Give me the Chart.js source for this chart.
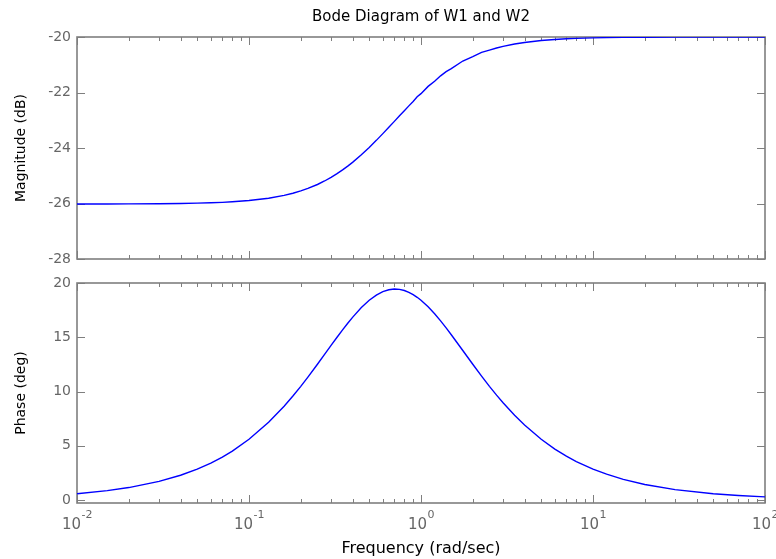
<!DOCTYPE html>
<html>
<head>
<meta charset="utf-8">
<script src="https://cdn.jsdelivr.net/npm/chart.js@4/dist/chart.umd.min.js"></script>
<style>
html, body { margin: 0; padding: 0; background: #ffffff; }
#wrap { position: relative; width: 776px; height: 559px; background: #ffffff; }
#wrap canvas { position: absolute; left: 0; top: 0; }
</style>
</head>
<body>
<div id="wrap">
  <canvas id="magChart" width="776" height="559"></canvas>
  <canvas id="phaseChart" width="776" height="559"></canvas>
</div>
<script>
// ---- data (frequency in rad/sec) ----
const frequencies = [0.01, 0.015, 0.02, 0.03, 0.04, 0.05, 0.06, 0.07, 0.08, 0.1, 0.13, 0.16, 0.18, 0.2, 0.22, 0.25, 0.275, 0.3, 0.325, 0.35, 0.375, 0.4, 0.45, 0.5, 0.55, 0.6, 0.65, 0.7, 0.75, 0.8, 0.85, 0.9, 0.95, 1.0, 1.1, 1.2, 1.3, 1.4, 1.5, 1.75, 2, 2.25, 2.5, 2.75, 3, 3.5, 4, 5, 6, 7, 8, 10, 12, 15, 20, 30, 50, 70, 100];
const magnitudeDb = [-26.019, -26.018, -26.015, -26.009, -26.000, -25.988, -25.974, -25.958, -25.938, -25.893, -25.809, -25.707, -25.630, -25.546, -25.457, -25.315, -25.189, -25.060, -24.926, -24.790, -24.653, -24.517, -24.245, -23.979, -23.725, -23.482, -23.254, -23.040, -22.840, -22.655, -22.482, -22.324, -22.156, -22.041, -21.780, -21.595, -21.399, -21.248, -21.139, -20.866, -20.706, -20.553, -20.474, -20.398, -20.339, -20.253, -20.196, -20.127, -20.089, -20.065, -20.050, -20.032, -20.023, -20.014, -20.008, -20.004, -20.001, -20.001, -20.000];
const phaseDeg = [0.573, 0.859, 1.145, 1.715, 2.283, 2.848, 3.409, 3.965, 4.516, 5.599, 7.167, 8.655, 9.595, 10.491, 11.342, 12.529, 13.435, 14.265, 15.020, 15.702, 16.314, 16.859, 17.759, 18.435, 18.915, 19.230, 19.407, 19.470, 19.440, 19.335, 19.169, 18.958, 18.710, 18.435, 17.830, 17.186, 16.531, 15.884, 15.255, 13.800, 12.529, 11.433, 10.491, 9.678, 8.973, 7.815, 6.911, 5.599, 4.698, 4.044, 3.549, 2.849, 2.378, 1.905, 1.430, 0.954, 0.573, 0.409, 0.286];

// ---- tick labels ----
const magTicks = [-28, -26, -24, -22, -20];
const phaseTicks = [0, 5, 10, 15, 20];
const decadeExponents = [-2, -1, 0, 1, 2];
const minorMultipliers = [2, 3, 4, 5, 6, 7, 8, 9];

// ---- texts ----
const titleText = 'Bode Diagram of W1 and W2';
const magLabel = 'Magnitude (dB)';
const phaseLabel = 'Phase (deg)';
const freqLabel = 'Frequency (rad/sec)';

const FONT = 'DejaVu Sans';
const TICK_COLOR = '#666666';
const FRAME_COLOR = '#7f7f7f';

function toPoints(xs, ys) { return xs.map((f, i) => ({ x: f, y: ys[i] })); }

// frame + inside tick marks (MATLAB style box)
const boxPlugin = {
  id: 'box',
  beforeDatasetsDraw(chart) {
    const { ctx, chartArea: a, scales } = chart;
    const xs = scales.x, ys = scales.y;
    ctx.save();
    ctx.strokeStyle = FRAME_COLOR;
    ctx.lineWidth = 1;
    ctx.beginPath();
    decadeExponents.forEach((e) => {
      const dec = Math.pow(10, e);
      const px = Math.round(xs.getPixelForValue(dec)) + 0.5;
      ctx.moveTo(px, a.bottom); ctx.lineTo(px, a.bottom - 8);
      ctx.moveTo(px, a.top); ctx.lineTo(px, a.top + 8);
      if (e < decadeExponents[decadeExponents.length - 1]) {
        minorMultipliers.forEach((m) => {
          const mx = Math.round(xs.getPixelForValue(m * dec)) + 0.5;
          ctx.moveTo(mx, a.bottom); ctx.lineTo(mx, a.bottom - 4);
          ctx.moveTo(mx, a.top); ctx.lineTo(mx, a.top + 4);
        });
      }
    });
    ys.ticks.forEach((t) => {
      const py = Math.round(ys.getPixelForValue(t.value)) + 0.5;
      ctx.moveTo(a.left, py); ctx.lineTo(a.left + 8, py);
      ctx.moveTo(a.right, py); ctx.lineTo(a.right - 8, py);
    });
    ctx.stroke();
    ctx.lineWidth = 1.6;
    ctx.strokeRect(a.left, a.top, a.right - a.left, a.bottom - a.top);
    ctx.restore();
  }
};

// decade labels 10^n below the lower plot
const decadeLabelPlugin = {
  id: 'decadeLabels',
  afterDraw(chart) {
    const { ctx, chartArea: a, scales } = chart;
    const xs = scales.x;
    ctx.save();
    ctx.fillStyle = TICK_COLOR;
    ctx.textBaseline = 'middle';
    ctx.textAlign = 'left';
    const baseFont = '15px "' + FONT + '"';
    const expFont = '11px "' + FONT + '"';
    decadeExponents.forEach((e) => {
      const px = xs.getPixelForValue(Math.pow(10, e));
      ctx.font = baseFont;
      const base = '10';
      const wb = ctx.measureText(base).width;
      ctx.font = expFont;
      const ex = String(e);
      const we = ctx.measureText(ex).width;
      const start = px - (wb + we) / 2;
      ctx.font = baseFont;
      ctx.fillText(base, start, a.bottom + 22);
      ctx.font = expFont;
      ctx.fillText(ex, start + wb + 0.5, a.bottom + 12);
    });
    ctx.restore();
  }
};

function yScale(min, max, ticks, label) {
  return {
    type: 'linear',
    position: 'left',
    min: min,
    max: max,
    afterBuildTicks(s) { s.ticks = ticks.map((v) => ({ value: v })); },
    afterFit(s) { s.width = 77; s.paddingTop = 0; s.paddingBottom = 0; },
    grid: { display: false, drawTicks: false },
    border: { display: false },
    ticks: { color: TICK_COLOR, padding: 6, font: { family: FONT, size: 14 } },
    title: { display: true, text: label, color: '#000000', font: { family: FONT, size: 14 }, padding: { top: 12.6, bottom: 0 } }
  };
}

const lineStyle = { borderColor: '#0000ff', borderWidth: 1.4, pointRadius: 0, fill: false, tension: 0 };

new Chart(document.getElementById('magChart'), {
  type: 'line',
  data: { datasets: [Object.assign({ data: toPoints(frequencies, magnitudeDb) }, lineStyle)] },
  options: {
    responsive: false,
    animation: false,
    devicePixelRatio: 1,
    layout: { padding: { left: 0, right: 11, top: 0, bottom: 300 } },
    plugins: {
      legend: { display: false },
      tooltip: { enabled: false },
      title: { display: true, fullSize: false, text: titleText, color: '#000000', font: { family: FONT, size: 15, weight: 'normal' }, padding: { top: 8, bottom: 11 } }
    },
    scales: {
      x: { type: 'logarithmic', min: 0.01, max: 100, display: false },
      y: yScale(-28, -20, magTicks, magLabel)
    }
  },
  plugins: [boxPlugin]
});

new Chart(document.getElementById('phaseChart'), {
  type: 'line',
  data: { datasets: [Object.assign({ data: toPoints(frequencies, phaseDeg) }, lineStyle)] },
  options: {
    responsive: false,
    animation: false,
    devicePixelRatio: 1,
    layout: { padding: { left: 0, right: 11, top: 283, bottom: 0 } },
    plugins: { legend: { display: false }, tooltip: { enabled: false }, title: { display: false } },
    scales: {
      x: {
        type: 'logarithmic', min: 0.01, max: 100, position: 'bottom',
        afterBuildTicks(s) { s.ticks = decadeExponents.map((e) => ({ value: Math.pow(10, e) })); },
        afterFit(s) { s.height = 56; s.paddingLeft = 0; s.paddingRight = 0; },
        grid: { display: false, drawTicks: false },
        border: { display: false },
        ticks: { display: false },
        title: { display: true, text: freqLabel, color: '#000000', font: { family: FONT, size: 16 }, padding: { top: 0, bottom: 1 } }
      },
      y: yScale(-0.28, 20.03, phaseTicks, phaseLabel)
    }
  },
  plugins: [boxPlugin, decadeLabelPlugin]
});
</script>
</body>
</html>
